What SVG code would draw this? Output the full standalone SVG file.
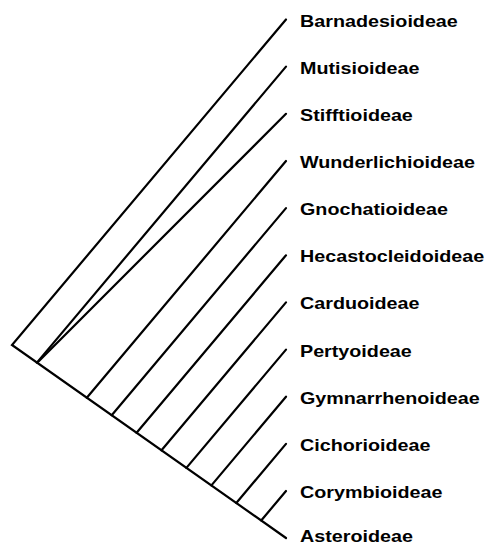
<svg xmlns="http://www.w3.org/2000/svg" width="487" height="546" viewBox="0 0 487 546">
<style>
.e{stroke:#000;stroke-width:2.2;fill:none;stroke-linecap:round}
.t{font-family:"Liberation Sans",Arial,sans-serif;font-weight:bold;font-size:17px;fill:#000}
</style>
<rect width="487" height="546" fill="#fff"/>
<g id="connectors">
<path class="e" d="M286,19.5 L12,345 L286,538"/>
<path class="e" d="M286,66.6 L36.9,362.6"/>
<path class="e" d="M286,113.8 L38.5,361.5"/>
<path class="e" d="M286,161 L86.8,397.7"/>
<path class="e" d="M286,208.1 L111.7,415.2"/>
<path class="e" d="M286,255.3 L136.6,432.8"/>
<path class="e" d="M286,302.4 L161.5,450.3"/>
<path class="e" d="M286,349.6 L186.4,467.9"/>
<path class="e" d="M286,396.7 L211.4,485.4"/>
<path class="e" d="M286,443.9 L236.3,503"/>
<path class="e" d="M286,491 L261.2,520.5"/>
</g>
<g id="n1" transform="translate(300,26.5) scale(1.16,1)"><text class="t">Barnadesioideae</text></g>
<g id="n2" transform="translate(300,73.6) scale(1.16,1)"><text class="t">Mutisioideae</text></g>
<g id="n3" transform="translate(300,120.8) scale(1.16,1)"><text class="t">Stifftioideae</text></g>
<g id="n4" transform="translate(300,168) scale(1.16,1)"><text class="t">Wunderlichioideae</text></g>
<g id="n5" transform="translate(300,215.1) scale(1.16,1)"><text class="t">Gnochatioideae</text></g>
<g id="n6" transform="translate(300,262.3) scale(1.16,1)"><text class="t">Hecastocleidoideae</text></g>
<g id="n7" transform="translate(300,309.4) scale(1.16,1)"><text class="t">Carduoideae</text></g>
<g id="n8" transform="translate(300,356.6) scale(1.16,1)"><text class="t">Pertyoideae</text></g>
<g id="n9" transform="translate(300,403.7) scale(1.16,1)"><text class="t">Gymnarrhenoideae</text></g>
<g id="n10" transform="translate(300,450.9) scale(1.16,1)"><text class="t">Cichorioideae</text></g>
<g id="n11" transform="translate(300,498) scale(1.16,1)"><text class="t">Corymbioideae</text></g>
<g id="n12" transform="translate(300,542) scale(1.16,1)"><text class="t">Asteroideae</text></g>
</svg>
